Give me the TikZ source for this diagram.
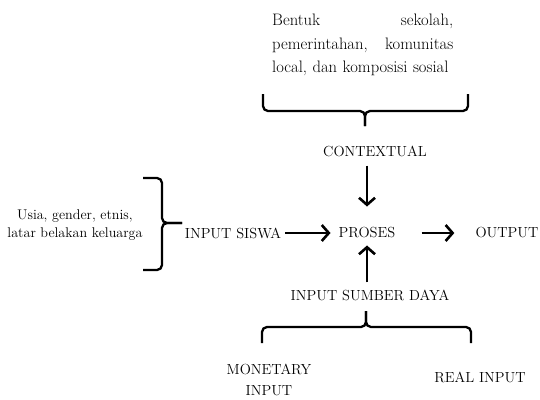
\documentclass[tikz,border=0pt]{standalone}
\usetikzlibrary{arrows.meta}

\newcommand{\capfont}{\fontsize{14.6}{21}\selectfont}
\newcommand{\topfont}{\fontsize{16.6}{23.5}\selectfont}
\newcommand{\sidefont}{\fontsize{14.1}{18}\selectfont}

\tikzset{
  flow/.style={line width=2.6pt,-{Straight Barb[length=7pt,width=16pt]}},
  brace/.style={line width=2.3pt,rounded corners=5pt},
}

\begin{document}
\begin{tikzpicture}[x=1pt,y=-1pt]
\useasboundingbox (0,0) rectangle (540,399);
\begin{scope}[every node/.style={inner sep=0pt,font=\capfont,align=center}]
  \node (contextual) at (375,151) {CONTEXTUAL};
  \node (proses) at (367,233) {PROSES};
  \node (siswa) at (233,233) {INPUT SISWA};
  \node (output) at (507,233) {OUTPUT};
  \node (sumber) at (370,295) {INPUT SUMBER DAYA};
  \node (monetary) at (269,380) {MONETARY\\INPUT};
  \node (realinput) at (480,377) {REAL INPUT};
\end{scope}

  \node[anchor=north west,inner sep=0pt,text width=181pt,align=left,font=\topfont] (bentuk) at (272,14)
    {Bentuk\hfill sekolah,\\pemerintahan,\hfill komunitas\\local, dan komposisi sosial};
  \node[inner sep=0pt,align=center,font=\sidefont] (usia) at (75,225)
    {Usia, gender, etnis,\\latar belakan keluarga};

  % arrows into and out of PROSES
  \draw[flow,shorten <=9pt,shorten >=21pt] (proses |- contextual.south) -- (proses);
  \draw[flow,shorten <=4pt,shorten >=8pt] (siswa) -- (proses);
  \draw[flow,shorten <=26pt,shorten >=21pt] (proses) -- (output);
  \draw[flow,shorten <=7pt,shorten >=7pt] (proses |- sumber.north) -- (proses.south);

  % braces
  \draw[brace] (263,94) |- (365,111) -- (365,126);
  \draw[brace] (468,94) |- (365,111) -- (365,126);
  \draw[brace] (143,178) -| (162,223) -- (182,223);
  \draw[brace] (143,270) -| (162,223) -- (182,223);
  \draw[brace] (262,343) |- (366,327) -- (366,311);
  \draw[brace] (471,343) |- (366,327) -- (366,311);
\end{tikzpicture}
\end{document}
